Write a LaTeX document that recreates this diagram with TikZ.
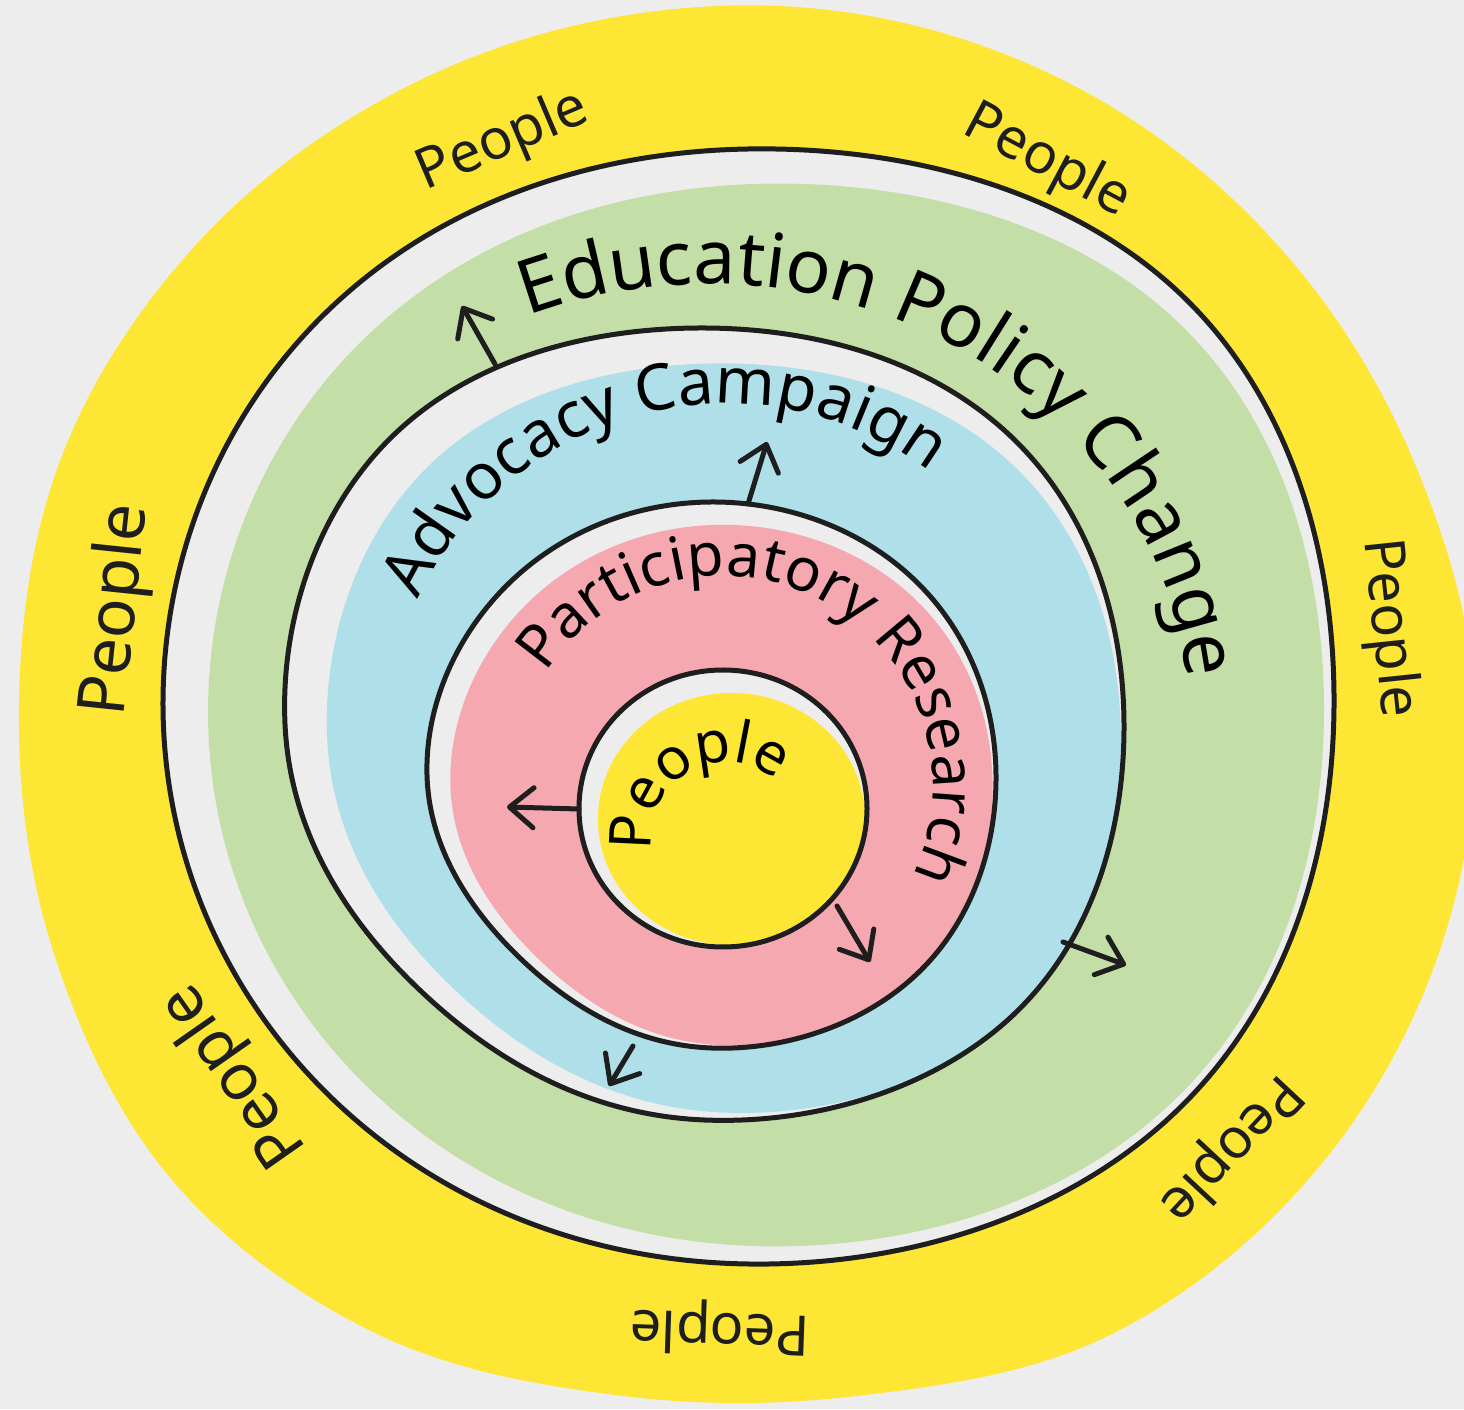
\documentclass[tikz,border=0pt]{standalone}
\usepackage{fontspec}
\setmainfont{Noto Sans}
\usetikzlibrary{arrows.meta}
\usetikzlibrary{decorations.text}

\definecolor{bggray}{HTML}{EDEDED}
\definecolor{sunyellow}{HTML}{FDE634}
\definecolor{policygreen}{HTML}{C3DFA7}
\definecolor{campaignblue}{HTML}{AFDFE9}
\definecolor{researchpink}{HTML}{F5A8AF}
\definecolor{inkgray}{HTML}{1E1E1E}

\newcommand{\edufont}{\fontsize{75}{80}\selectfont}
\newcommand{\advfont}{\fontsize{64}{70}\selectfont}
\newcommand{\resfont}{\fontsize{60}{66}\selectfont}
\newcommand{\corefont}{\fontsize{58}{64}\selectfont}

\newcommand{\ringA}{plot[smooth cycle, tension=0.675] coordinates {(0:585.5 and 557.5) (45:611.8 and 582.6) (90:585.5 and 557.5) (135:591.4 and 563.1) (180:585.5 and 557.5) (225:585.5 and 557.5) (270:585.5 and 557.5) (315:603.1 and 574.2)}}
\newcommand{\ringB}{plot[smooth cycle, tension=0.675] coordinates {(0:419.5 and 396) (45:432.1 and 407.9) (90:419.5 and 396) (135:436.3 and 411.8) (180:419.5 and 396) (225:400.6 and 378.2) (270:419.5 and 396) (315:436.3 and 411.8)}}
\newcommand{\ringC}{plot[smooth cycle, tension=0.675] coordinates {(0:284.5 and 273) (45:287.3 and 275.7) (90:284.5 and 273) (135:284.5 and 273) (180:284.5 and 273) (225:270.3 and 259.4) (270:284.5 and 273) (315:291.9 and 280.1)}}

\begin{document}
\begin{tikzpicture}[x=1pt, y=1pt,
    >={Straight Barb[length=24pt, width=40pt, round]},
    outline/.style={draw=inkgray, line width=5pt},
    pointer/.style={draw=inkgray, line width=5pt, line cap=round, ->},
    people/.style={text=inkgray, font=\fontsize{56}{60}\selectfont, inner sep=0pt}]

    \useasboundingbox (0,0) rectangle (1464,1409);
    \fill[bggray] (0,0) rectangle (1464,1409);

    \begin{scope}
        \clip (0,0) rectangle (1464,1409);
        \fill[sunyellow, shift={(740,705)}] plot[smooth cycle, tension=0.614] coordinates {(0:735) (20:716) (40:707) (60:703) (80:700) (100:698) (120:702) (140:712) (160:722) (180:721) (200:730) (220:741) (240:727) (260:702) (280:702) (300:731) (320:741) (340:742)};
    \end{scope}

    \begin{scope}[shift={(748.5,702.5)}]
        \fill[bggray] \ringA;
    \end{scope}
    \begin{scope}[shift={(766,694)}, scale=0.953]
        \fill[policygreen] \ringA;
    \end{scope}
    \begin{scope}[shift={(704.5,685)}]
        \fill[bggray] \ringB;
    \end{scope}
    \begin{scope}[shift={(724,671)}, scale=0.946]
        \fill[campaignblue] \ringB;
    \end{scope}
    \begin{scope}[shift={(711.5,634)}]
        \fill[bggray] \ringC;
    \end{scope}
    \begin{scope}[shift={(721.5,624)}, scale=0.953]
        \fill[researchpink] \ringC;
    \end{scope}
    \fill[bggray] (723,600.5) ellipse [x radius=144, y radius=138.5];
    \fill[sunyellow] (731.5,590) ellipse [x radius=133.5, y radius=126];

    \begin{scope}[shift={(748.5,702.5)}]
        \draw[outline] \ringA;
    \end{scope}
    \begin{scope}[shift={(704.5,685)}]
        \draw[outline] \ringB;
    \end{scope}
    \begin{scope}[shift={(711.5,634)}]
        \draw[outline] \ringC;
    \end{scope}
    \draw[outline] (723,600.5) ellipse [x radius=144, y radius=138.5];

    \node[people, rotate=23] (pTL) at (503,1267) {People};
    \node[people, rotate=-28] (pTR) at (1047,1247) {People};
    \node[people, rotate=84, font=\fontsize{66}{70}\selectfont] (pL) at (118,799) {People};
    \node[people, rotate=-84] (pR) at (1388,781) {People};
    \node[people, rotate=-133] (pBR) at (1230,261) {People};
    \node[people, rotate=178] (pB) at (720,81) {People};
    \node[people, rotate=125, font=\fontsize{64}{70}\selectfont] (pBL) at (235,334) {People};

    \path[decorate, decoration={text along path, text={|\edufont|Education Policy Change}, text align=center}]
        (708,683) ++(148.2:482 and 442) arc[start angle=148.2, end angle=-31.8, x radius=482, y radius=442];
    \path[decorate, decoration={text along path, text={|\advfont|Advocacy Campaign}, text align=center}]
        (726,665) ++(194:340) arc[start angle=194, end angle=14, radius=340];
    \path[decorate, decoration={text along path, text={|\resfont|Participatory Research}, text align=center}]
        (723,623) ++(181:210) arc[start angle=181, end angle=-59, radius=210];
    \path[decorate, decoration={text along path, text={|\corefont|People}, text align=center}]
        (726,572) ++(239.5:75) arc[start angle=239.5, end angle=-0.5, radius=75];

    \coordinate (D1) at (579,600);
    \coordinate (D1end) at (507,602);
    \coordinate (D2) at (837,503);
    \coordinate (D2end) at (870,447);
    \coordinate (C1) at (748,905);
    \coordinate (C1end) at (767,967);
    \coordinate (C2) at (633,363);
    \coordinate (C2end) at (609,323);
    \coordinate (B1) at (495,1045);
    \coordinate (B1end) at (462,1103);
    \coordinate (B2) at (1063,467);
    \coordinate (B2end) at (1126,444);

    \draw[pointer] (D1) -- (D1end);
    \draw[pointer] (D2) -- (D2end);
    \draw[pointer] (C1) -- (C1end);
    \draw[pointer] (C2) -- (C2end);
    \draw[pointer] (B1) -- (B1end);
    \draw[pointer] (B2) -- (B2end);

\end{tikzpicture}
\end{document}
